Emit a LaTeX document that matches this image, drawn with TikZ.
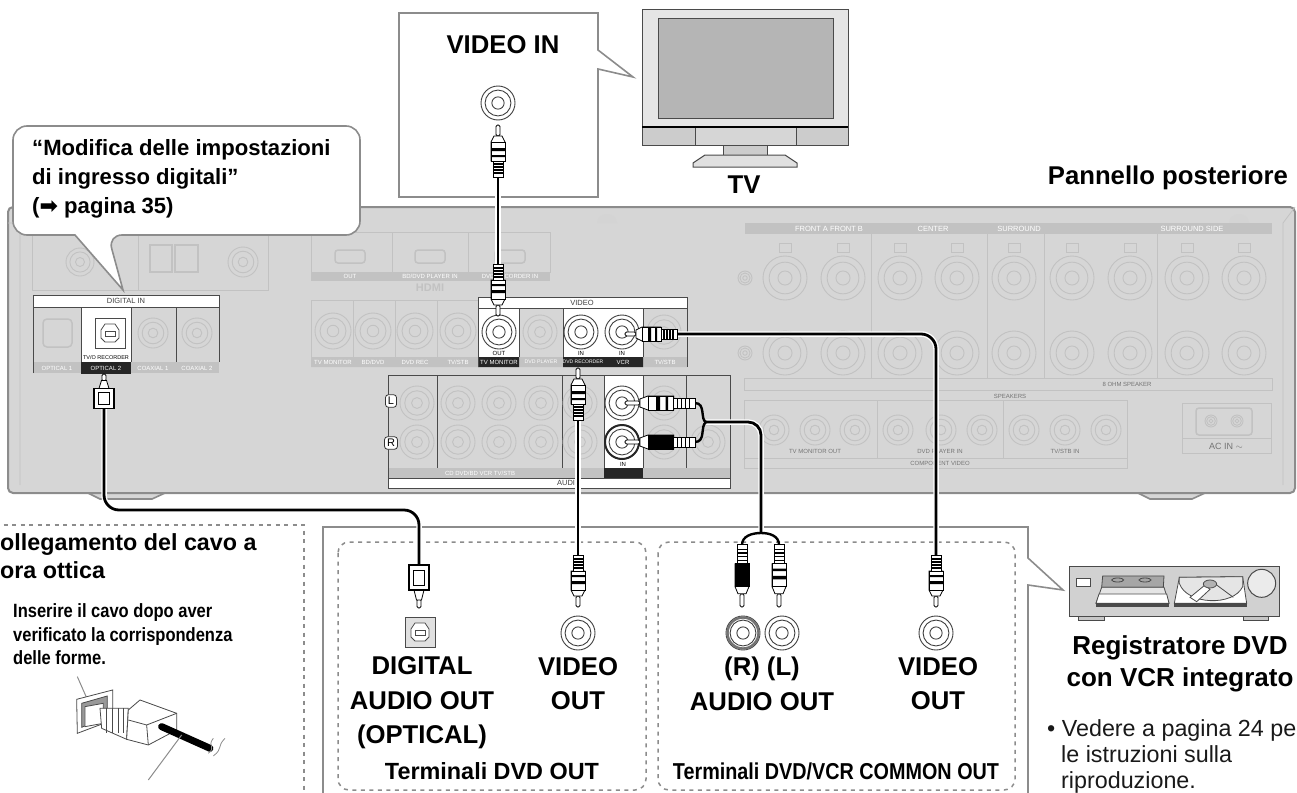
\documentclass[tikz,border=0pt]{standalone}
\usepackage{fontspec}
\setmainfont{Liberation Sans}
\newfontfamily\condfont[FakeStretch=.86]{Liberation Sans}
\newfontfamily\symfont{DejaVu Sans}
\definecolor{panelgray}{HTML}{D6D6D6}
\definecolor{edgegray}{HTML}{8C8C8C}
\definecolor{fadeline}{HTML}{C2C2C2}
\definecolor{darkline}{HTML}{4A4A4A}
\tikzset{
  bigtxt/.style={font=\fontsize{25.7}{34.5}\selectfont\bfseries, align=center, inner sep=0pt, text=black},
  midtxt/.style={font=\fontsize{22.1}{29}\selectfont\bfseries, align=left, inner sep=0pt, text=black},
  condtxt/.style={font=\condfont\fontsize{23}{27}\selectfont\bfseries, inner sep=0pt, text=black},
  tiptxt/.style={font=\condfont\fontsize{19.2}{23.5}\selectfont\bfseries, align=left, inner sep=0pt, text=black},
  bodytxt/.style={font=\fontsize{23.3}{26}\selectfont, align=left, inner sep=0pt, text=black!90},
  paneltxt/.style={font=\fontsize{6}{7}\selectfont, inner sep=0pt, text=white},
  bandtxt/.style={font=\fontsize{7.5}{8}\selectfont, inner sep=0pt, text=black!75},
  callout/.style={draw=edgegray, line width=1.6pt, fill=white},
  dashbox/.style={draw=edgegray, line width=1.5pt, dash pattern=on 4pt off 4.5pt, rounded corners=11pt},
  cellline/.style={draw=darkline, line width=.7pt},
  cable/.style={draw=black, line width=2.8pt, preaction={draw=white, line width=5.5pt}},
  pics/fjack/.style={code={
    \draw[fadeline, line width=.9pt] (0,0) circle (#1) circle (#1*.72) circle (#1*.32);}},
  pics/wjack/.style={code={
    \draw[black!75, line width=.9pt, fill=white] (0,0) circle (#1) circle (#1*.76);
    \draw[black!75, line width=.9pt] (0,0) circle (#1*.36);}},
  pics/optsock/.style={code={
    \draw[darkline, line width=.9pt, fill=#1] (-15,-15) rectangle (15,15);
    \draw[darkline, line width=.8pt, fill=white] (-9,-3) -- (-5,-9) -- (5,-9) -- (9,-3) -- (9,5) -- (5,9) -- (-5,9) -- (-9,5) -- cycle;
    \draw[darkline, line width=.8pt] (-5,-2) rectangle (5,3);}},
  pics/rca/.style={code={
    \draw[black, line width=.8pt, fill=white, rounded corners=1.5pt] (-2,0) rectangle (2,-11);
    \draw[black, line width=.8pt, fill=white] (-4,-11) -- (-7,-17) -- (-7,-36) -- (7,-36) -- (7,-17) -- (4,-11) -- cycle;
    \fill[#1] (-7,-17) rectangle (7,-36);
    \draw[black, line width=.8pt] (-7,-17) rectangle (7,-36);
    \fill[black] (-7,-23) rectangle (7,-26) (-7,-30) rectangle (7,-32);
    \draw[black, line width=.7pt, fill=white] (-5,-36) rectangle (5,-52);
    \foreach \s in {-39,-42,-45,-48} \draw[black, line width=1.3pt] (-5,\s) -- (5,\s);}},
  pics/optplug/.style={code={
    \draw[black, line width=.8pt, fill=white, rounded corners=1.5pt] (-2,0) rectangle (2,-9);
    \draw[black, line width=.8pt, fill=white] (-2.5,-8) -- (-5,-18) -- (5,-18) -- (2.5,-8) -- cycle;
    \draw[black, line width=1.4pt, fill=white] (-10,-18) rectangle (10,-43);
    \draw[black, line width=.9pt] (-5.5,-23) rectangle (5.5,-38);}},
}
\begin{document}
\begin{tikzpicture}[x=1pt, y=-1pt]
  \path[use as bounding box, clip] (0,0) rectangle (1297,792);

  % rear panel
  \draw[edgegray, line width=1.6pt, fill=panelgray] (88,493) -- (100,499) -- (152,499) -- (165,493) -- cycle;
  \draw[edgegray, line width=1.6pt, fill=panelgray] (1138,493) -- (1150,499) -- (1192,499) -- (1205,493) -- cycle;
  \draw[edgegray, line width=2pt, fill=panelgray, rounded corners=5pt] (8,493) -- (8,207) -- (1295,207) -- (1295,493) -- cycle;
  \draw[fadeline, line width=.8pt] (1295,207) -- (1283,223) -- (1283,485) (8,223) -- (20,223) -- (20,485);
  \fill[fadeline!70] (597,223) arc (180:0:10 and -9) -- cycle;
  \fill[fadeline!70] (1229,223) arc (180:0:10 and -9) -- cycle;

  % faded top left and hdmi blocks
  \draw[fadeline, line width=.9pt] (32,232) rectangle (138,290) (138,232) rectangle (268,290);
  \pic at (80,262) {fjack=14};
  \draw[fadeline, line width=1.5pt] (150,245) rectangle (172,272) (175,245) rectangle (198,272);
  \pic at (243,262) {fjack=15};
  \draw[fadeline, line width=.9pt] (311,232) rectangle (392,272) (392,232) rectangle (468,272) (468,232) rectangle (550,272);
  \foreach \x in {350,430,510}
    \draw[fadeline, line width=1.5pt, rounded corners=3pt] (\x-15,250) rectangle (\x+15,263);
  \fill[fadeline] (311,272) rectangle (550,281);
  \node[paneltxt] (hdmiout) at (350,276.5) {OUT};
  \node[paneltxt] (hdmibd) at (430,276.5) {BD/DVD PLAYER IN};
  \node[paneltxt] (hdmidvd) at (510,276.5) {DVD RECORDER IN};
  \node[font=\fontsize{11}{12}\selectfont\bfseries, inner sep=0pt, text=fadeline] (hdmilogo) at (430,288) {HDMI};

  % faded speaker block
  \fill[fadeline] (745,223) rectangle (1272,234);
  \node[paneltxt, font=\fontsize{7.5}{8}\selectfont] (spkfront) at (829,229) {FRONT A  FRONT B};
  \node[paneltxt, font=\fontsize{7.5}{8}\selectfont] (spkcenter) at (933,229) {CENTER};
  \node[paneltxt, font=\fontsize{7.5}{8}\selectfont] (spksurr) at (1019,229) {SURROUND};
  \node[paneltxt, font=\fontsize{7.5}{8}\selectfont] (spkside) at (1192,229) {SURROUND SIDE};
  \foreach \x in {785,843,900,957,1014,1072,1130,1187,1244} {
    \pic at (\x,278) {fjack=22};
    \pic at (\x,353) {fjack=22};
    \draw[fadeline, line width=.8pt] (\x-6,243) rectangle (\x+6,252);
  }
  \foreach \x in {871,987,1044,1157} \draw[fadeline, line width=.8pt] (\x,234) -- (\x,378);
  \draw[fadeline, line width=.8pt] (744,378) rectangle (1272,390);
  \node[paneltxt, text=fadeline!60!black] (spkbottom) at (1127,384) {8 OHM SPEAKER};
  \node[paneltxt, text=fadeline!60!black] (spkmain) at (1010,396) {SPEAKERS};
  \pic at (745,278) {fjack=7};
  \pic at (745,353) {fjack=7};
  \draw[fadeline, line width=.8pt] (744,400) rectangle (1127,468) (744,458) -- (1127,458) (877,400) -- (877,458) (1003,400) -- (1003,458);
  \foreach \x in {774,815,855,898,941,982,1024,1065,1106} \pic at (\x,430) {fjack=15};
  \node[paneltxt, text=fadeline!60!black] (mtvout) at (815,451) {TV MONITOR OUT};
  \node[paneltxt, text=fadeline!60!black] (mdvdout) at (940,451) {DVD PLAYER IN};
  \node[paneltxt, text=fadeline!60!black] (mtvin) at (1065,451) {TV/STB IN};
  \node[paneltxt, text=fadeline!60!black] (mcomp) at (940,463) {COMPONENT VIDEO};
  \draw[fadeline, line width=.8pt] (1182,403) rectangle (1271,453) (1182,438) -- (1271,438);
  \draw[fadeline, line width=1.5pt, rounded corners=3pt] (1196,408) rectangle (1252,435);
  \pic at (1211,421) {fjack=6};
  \pic at (1237,421) {fjack=6};
  \node[paneltxt, text=fadeline!60!black, font=\fontsize{9}{10}\selectfont] (acin) at (1226,446) {AC IN $\sim$};

  % digital in block
  \fill[fadeline] (33,362) rectangle (219,373);
  \fill[white] (33,295) rectangle (219,307) (81,307) rectangle (131,362);
  \fill[black!85] (81,362) rectangle (131,374);
  \draw[cellline] (33,373) -- (33,295) -- (219,295) -- (219,362) (33,307) -- (219,307) (81,307) -- (81,362) (131,307) -- (131,362) (176,307) -- (176,362);
  \draw[fadeline, line width=1.5pt, rounded corners=4pt] (43,319) rectangle (72,347);
  \pic at (153,333) {fjack=15};
  \pic at (197,333) {fjack=15};
  \pic at (110,333) {optsock=white};
  \node[bandtxt] (digitalin) at (126,301) {DIGITAL IN};
  \node[paneltxt, text=black, font=\fontsize{5.5}{6}\selectfont] (optrec) at (106,358) {TV/O RECORDER};
  \node[paneltxt] (opt1) at (57,368) {OPTICAL 1};
  \node[paneltxt] (opt2) at (106,368) {OPTICAL 2};
  \node[paneltxt] (coax1) at (153,368) {COAXIAL 1};
  \node[paneltxt] (coax2) at (197,368) {COAXIAL 2};

  % video block
  \draw[fadeline, line width=.9pt] (311,300) rectangle (478,357);
  \foreach \x in {353,395,437} \draw[fadeline, line width=.9pt] (\x,300) -- (\x,357);
  \foreach \x in {333,373,415,458} \pic at (\x,331) {fjack=18};
  \fill[fadeline] (311,357) rectangle (478,367) (519,357) rectangle (563,367) (643,357) rectangle (687,367);
  \fill[white] (478,297) rectangle (687,308) (478,308) rectangle (519,357) (563,308) rectangle (643,357);
  \fill[black!85] (478,357) rectangle (519,367) (563,357) rectangle (643,367);
  \draw[cellline] (478,367) -- (478,297) -- (687,297) -- (687,367) (478,308) -- (687,308) (519,308) -- (519,357) (563,308) -- (563,357) (643,308) -- (643,357);
  \foreach \x in {499,581,622} \pic at (\x,332) {wjack=17};
  \foreach \x in {540,664} \pic at (\x,332) {fjack=17};
  \node[bandtxt] (videoband) at (582,302.5) {VIDEO};
  \node[paneltxt] (vtvmon) at (333,362) {TV MONITOR};
  \node[paneltxt] (vbd) at (373,362) {BD/DVD};
  \node[paneltxt] (vrec) at (415,362) {DVD REC};
  \node[paneltxt] (vstb) at (458,362) {TV/STB};
  \node[paneltxt] (vmon) at (499,362) {TV MONITOR};
  \node[paneltxt, font=\fontsize{5.2}{6}\selectfont] (vplay) at (541,362) {DVD PLAYER};
  \node[paneltxt, font=\fontsize{5}{6}\selectfont] (vdvdrec) at (583,362) {DVD RECORDER};
  \node[paneltxt] (vvcr) at (623,362) {VCR};
  \node[paneltxt] (vstbb) at (665,362) {TV/STB};
  \node[paneltxt, text=black] (vout) at (499,353) {OUT};
  \node[paneltxt, text=black] (vin1) at (581,353) {IN};
  \node[paneltxt, text=black] (vin2) at (622,353) {IN};

  % audio block
  \fill[fadeline] (388,468) rectangle (730,478);
  \fill[white] (388,478) rectangle (730,488) (604,375) rectangle (643,468);
  \fill[black!85] (604,468) rectangle (643,478);
  \draw[cellline] (388,375) rectangle (730,488) (388,478) -- (730,478);
  \foreach \x in {437,562,604,643,686} \draw[cellline] (\x,375) -- (\x,468);
  \foreach \x in {417,458,499,541,580,664} {
    \pic at (\x,403) {fjack=17};
    \pic at (\x,442) {fjack=17};
  }
  \pic at (708,442) {fjack=17};
  \pic at (622,403) {wjack=17};
  \pic at (622,442) {wjack=17};
  \draw[black!85, line width=2pt] (622,442) circle (17);
  \node[draw=black!80, line width=.8pt, fill=white, rounded corners=3pt, font=\fontsize{11}{11}\selectfont, inner sep=2.5pt, text=black] (laball) at (391,401) {L};
  \node[draw=black!80, line width=.8pt, fill=white, rounded corners=3pt, font=\fontsize{11}{11}\selectfont, inner sep=2.5pt, text=black] (labarr) at (391,443) {R};
  \node[bandtxt] (audioband) at (569,483) {AUDIO};
  \node[paneltxt] (acd) at (480,473) {CD  DVD/BD  VCR  TV/STB};
  \node[paneltxt, text=black] (ain) at (623,464) {IN};

  % callouts and lower frames
  \draw[callout] (399,13) -- (598,13) -- (598,50) -- (633,77) -- (598,69) -- (598,197) -- (399,197) -- cycle;
  \draw[callout] (323,800) -- (323,527) -- (1028,527) -- (1028,558) -- (1063,590) -- (1028,585) -- (1028,800);
  \draw[callout] (13,180) [rounded corners=14pt] |- (360,126) |- (108,235) [sharp corners] -- (123,290) -- (75,235) [rounded corners=14pt] -| (13,180) -- cycle;
  \draw[edgegray, line width=1.5pt, dash pattern=on 4pt off 4.5pt] (-5,525) -- (304,525) -- (304,800);
  \draw[dashbox] (338,542) rectangle (646,790);
  \draw[dashbox] (658,542) rectangle (1015,790);

  % tv
  \draw[darkline, line width=1pt, fill=black!10] (642,10) rectangle (848,145);
  \draw[darkline, line width=1pt, fill=black!29] (658,19) rectangle (833,118);
  \draw[darkline, line width=1pt, fill=black!20] (642,127) rectangle (848,145);
  \draw[darkline, line width=1pt, fill=black!16] (695,127) rectangle (796,145);
  \draw[black, line width=2.5pt] (642,127) -- (848,127);
  \draw[darkline, line width=1pt, fill=black!20] (723,145) rectangle (767,155);
  \draw[darkline, line width=1pt, fill=black!12] (705,155) -- (785,155) -- (797,163) -- (797,167) -- (693,167) -- (693,163) -- cycle;

  % recorder
  \begin{scope}[shift={(1020,490)}, x=.3333pt, y=-.3333pt]
    \draw[darkline, line width=1pt, fill=black!22] (175,380) rectangle (252,392) (672,380) rectangle (746,392);
    \draw[darkline, line width=1pt, fill=black!18] (148,228) rectangle (778,380);
    \draw[darkline, line width=.8pt, fill=white] (168,265) rectangle (212,288);
    \draw[darkline, line width=.8pt, fill=black!35] (248,258) -- (432,258) -- (430,292) -- (245,292) -- cycle;
    \draw[darkline, line width=.8pt, fill=black!10] (245,292) -- (432,292) -- (447,340) -- (228,340) -- cycle;
    \draw[darkline, line width=.8pt, fill=white] (237,312) -- (440,312) -- (447,340) -- (228,340) -- cycle;
    \fill[darkline] (228,340) rectangle (447,352);
    \draw[darkline, line width=.8pt] (293,270) ellipse (18 and 6) (375,270) ellipse (18 and 6);
    \draw[darkline, line width=.8pt, fill=white] (478,262) -- (668,260) -- (680,340) -- (463,340) -- cycle;
    \draw[darkline, line width=.8pt, fill=black!10] (478,280) .. controls (500,345) and (640,350) .. (668,290) -- (668,260) -- (478,262) -- cycle;
    \fill[darkline] (463,340) rectangle (680,352);
    \draw[darkline, line width=.8pt, fill=white] (510,322) -- (555,285) -- (570,298) -- (530,335) -- cycle;
    \draw[darkline, line width=.8pt] (590,285) -- (640,322);
    \draw[darkline, line width=.8pt, fill=black!30] (570,282) ellipse (20 and 12);
    \draw[darkline, line width=1pt, fill=black!8] (725,280) circle (42);
  \end{scope}

  % plug sketch
  \begin{scope}[shift={(0,490)}, x=.3333pt, y=-.3333pt]
    \draw[edgegray, line width=1pt] (232,560) -- (265,635);
    \draw[darkline, line width=.8pt, fill=white] (230,628) -- (338,600) -- (338,690) -- (232,730) -- cycle;
    \draw[darkline, line width=.8pt, fill=black!40] (245,640) -- (322,618) -- (322,680) -- (245,712) -- cycle;
    \draw[darkline, line width=.8pt, fill=white] (255,650) -- (310,640) -- (310,700) -- (255,710) -- cycle;
    \draw[darkline, line width=.8pt, fill=white] (300,655) -- (385,655) -- (380,748) -- (305,715) -- cycle;
    \foreach \x in {318,336,354,370} \draw[darkline, line width=.8pt] (\x,655) -- (\x,728);
    \draw[darkline, line width=.8pt, fill=white] (385,660) -- (420,630) -- (530,670) -- (530,720) -- (445,765) -- (380,748) -- cycle;
    \draw[darkline, line width=.8pt] (385,690) -- (440,705) -- (530,670) (440,705) -- (445,765);
    \draw[black, line width=7pt, line cap=round] (485,710) -- (630,775);
    \draw[edgegray, line width=.8pt] (640,745) .. controls (620,770) and (650,770) .. (625,790) (675,745) .. controls (650,770) and (670,775) .. (640,798);
    \draw[edgegray, line width=1pt] (545,735) -- (445,870);
  \end{scope}

  % jacks of the source and the tv
  \pic at (498,103) {wjack=17};
  \pic at (420,632) {optsock={black!12}};
  \pic at (578,633) {wjack=17};
  \pic at (743,633) {wjack=17};
  \draw[black!55, line width=2.4pt] (743,633) circle (15.5);
  \pic at (782,633) {wjack=17};
  \pic at (936,633) {wjack=17};

  % cable end points
  \coordinate (tvplug) at (498,175);
  \coordinate (mainplug) at (498,265);
  \coordinate (optpanel) at (104,407);
  \coordinate (optturn) at (419,510);
  \coordinate (optsrc) at (419,565);
  \coordinate (recplug) at (578,420);
  \coordinate (recsrc) at (578,555);
  \coordinate (vcrplug) at (676,334);
  \coordinate (vcrturn) at (936,334);
  \coordinate (vcrsrc) at (936,555);
  \coordinate (audL) at (695,403);
  \coordinate (audR) at (695,442);
  \coordinate (audjoin) at (706,422);
  \coordinate (audturn) at (761,422);
  \coordinate (audfork) at (761,533);
  \coordinate (srcR) at (742,545);
  \coordinate (srcL) at (779,545);

  % cables
  \draw[cable] (tvplug) -- (mainplug);
  \draw[cable, rounded corners=15pt] (optpanel) -- (optpanel |- optturn) -- (optturn) -- (optsrc);
  \draw[cable] (recplug) -- (recsrc);
  \draw[cable, rounded corners=15pt] (vcrplug) -- (vcrturn) -- (vcrsrc);
  \draw[cable, rounded corners=13pt] (audjoin) -- (audturn) -- (audfork);
  \draw[draw=black, line width=2.4pt] (audL) .. controls (706,403) and (700,420) .. (audjoin) .. controls (700,426) and (706,442) .. (audR);
  \draw[draw=black, line width=2.4pt] (srcR) .. controls (742,536) and (752,533) .. (audfork) .. controls (770,533) and (779,536) .. (srcL);

  % plugs
  \pic[rotate=180] at (498,125) {rca=white};
  \pic at (498,316) {rca=white};
  \pic[rotate=180] at (578,368) {rca=white};
  \pic[rotate=-90] at (625,334) {rca=white};
  \pic[rotate=-90, yscale=1.35] at (625,403) {rca=white};
  \pic[rotate=-90, yscale=1.35] at (625,442) {rca=black};
  \pic at (578,607) {rca=white};
  \pic at (936,607) {rca=white};
  \pic[yscale=1.2] at (742,607) {rca=black};
  \pic[yscale=1.2] at (779,607) {rca=white};
  \pic at (419,608) {optplug};
  \pic[rotate=180, yscale=.8] at (104,374) {optplug};

  % texts
  \node[midtxt, anchor=west] (bubbletxt) at (32,178.5) {“Modifica delle impostazioni\\di ingresso digitali”\\({\symfont ➡} pagina 35)};
  \node[bigtxt] (videoin) at (503,45) {VIDEO IN};
  \node[bigtxt] (tvname) at (744,185) {TV};
  \node[bigtxt, anchor=east] (rearname) at (1288,178) {Pannello posteriore};
  \node[bigtxt, anchor=west, font=\fontsize{23.3}{28.5}\selectfont\bfseries, align=left] (fibertitle) at (0,556) {ollegamento del cavo a\\ora ottica};
  \node[tiptxt, anchor=north west] (tiptext) at (13,603.5) {Inserire il cavo dopo aver\\verificato la corrispondenza\\delle forme.};
  \node[bigtxt] (digitalout) at (422,703) {DIGITAL\\AUDIO OUT\\(OPTICAL)};
  \node[bigtxt, anchor=north] (videoout) at (578,657) {VIDEO\\OUT};
  \node[bigtxt, anchor=north] (audioout) at (762,657) {(R) (L)\\AUDIO OUT};
  \node[bigtxt, anchor=north] (videoout2) at (938,657) {VIDEO\\OUT};
  \node[inner sep=0pt, text=black, font=\fontsize{23.4}{27}\selectfont\bfseries] (dvdterm) at (492,771) {Terminali DVD OUT};
  \node[condtxt] (commonterm) at (836,771) {Terminali DVD/VCR COMMON OUT};
  \node[bigtxt, font=\fontsize{26}{32}\selectfont\bfseries, anchor=north] (recname) at (1180,635) {Registratore DVD\\con VCR integrato};
  \node[bodytxt, anchor=north west] (bullet) at (1047,719) {• Vedere a pagina 24 pe};
  \node[bodytxt, anchor=north west] (bullettwo) at (1061,745) {le istruzioni sulla\\riproduzione.};
\end{tikzpicture}
\end{document}
